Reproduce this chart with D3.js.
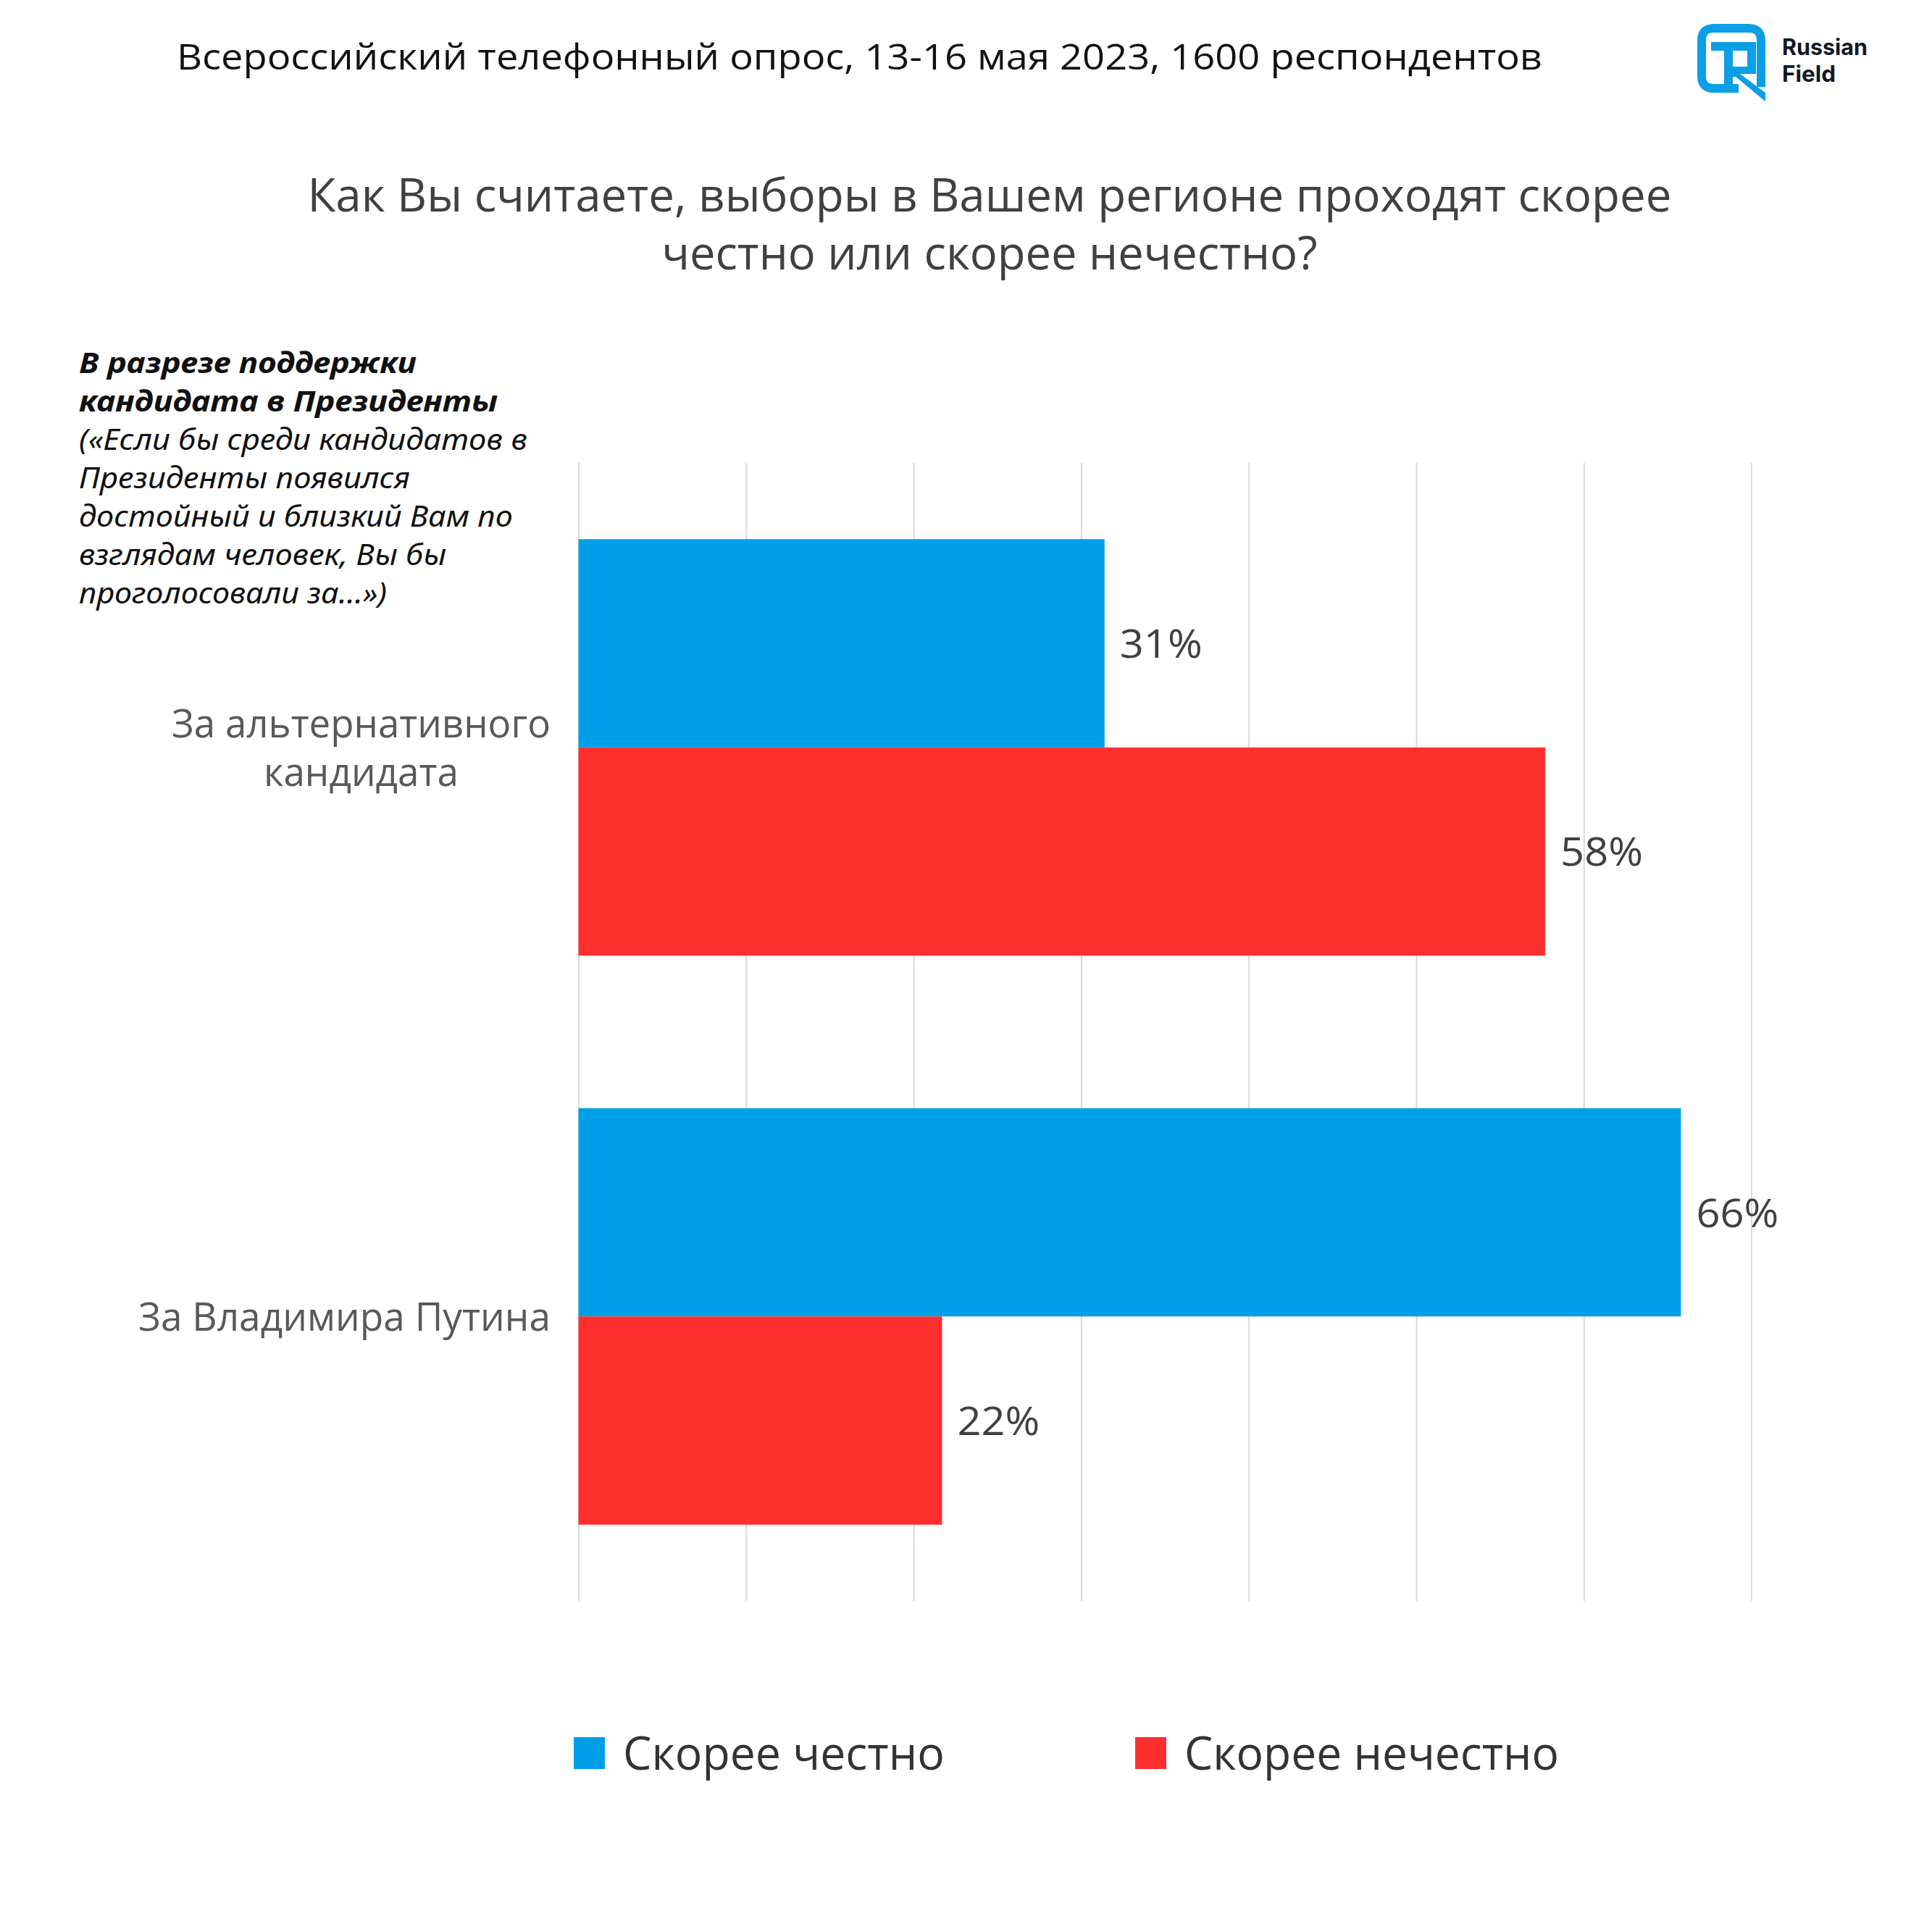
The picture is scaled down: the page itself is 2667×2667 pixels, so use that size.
<!DOCTYPE html>
<html><head><meta charset="utf-8">
<script src="https://cdn.jsdelivr.net/npm/d3@7"></script>
<style>body{margin:0;background:#fff}</style>
</head><body>
<script>
// ---- data ----
const categories = ["За альтернативного кандидата", "За Владимира Путина"];
const categoryLines = [["За альтернативного", "кандидата"], ["За Владимира Путина"]];
const seriesNames = ["Скорее честно", "Скорее нечестно"];
const honestValues = [31.4, 65.8];
const dishonestValues = [57.7, 21.7];
const honestLabels = ["31%", "66%"];
const dishonestLabels = ["58%", "22%"];
const gridTicks = [0, 10, 20, 30, 40, 50, 60, 70];
const seriesColors = ["#009fe8", "#ff2f2f"];
const subtitleText = "Всероссийский телефонный опрос, 13-16 мая 2023, 1600 респондентов";
const questionLines = ["Как Вы считаете, выборы в Вашем регионе проходят скорее", "честно или скорее нечестно?"];
const noteBoldLines = ["В разрезе поддержки", "кандидата в Президенты"];
const noteLines = ["(«Если бы среди кандидатов в", "Президенты появился", "достойный и близкий Вам по", "взглядам человек, Вы бы", "проголосовали за…»)"];

const W = 2667, H = 2667;
const svg = d3.select("body").append("svg").attr("width", W).attr("height", H)
  .style("font-family", "'Open Sans', 'Noto Sans', sans-serif");
svg.append("rect").attr("width", W).attr("height", H).attr("fill", "#fff");

function fit(sel, w) { sel.attr("textLength", w).attr("lengthAdjust", "spacingAndGlyphs"); return sel; }

// ---- header ----
fit(svg.append("text").attr("x", 244).attr("y", 96).attr("font-size", 49).attr("fill", "#111")
  .text(subtitleText), 1885);

const qWidths = [1883, 905];
questionLines.forEach((t, i) => {
  fit(svg.append("text").attr("x", 1366).attr("y", 292 + i * 80).attr("text-anchor", "middle")
    .attr("font-size", 64).attr("fill", "#404040").text(t), qWidths[i]);
});

// ---- note ----
const noteBoldW = [466, 578];
noteBoldLines.forEach((t, i) => {
  fit(svg.append("text").attr("x", 109).attr("y", 515 + i * 53).attr("font-size", 40)
    .attr("font-style", "italic").attr("font-weight", "bold").attr("fill", "#111")
    .attr("font-family", "'Noto Sans', 'Open Sans', sans-serif").text(t), noteBoldW[i]);
});
const noteW = [619, 457, 599, 507, 425];
noteLines.forEach((t, i) => {
  fit(svg.append("text").attr("x", 109).attr("y", 621 + i * 53).attr("font-size", 40)
    .attr("font-style", "italic").attr("fill", "#111")
    .attr("font-family", "'Noto Sans', 'Open Sans', sans-serif").text(t), noteW[i]);
});

// ---- scales ----
const x = d3.scaleLinear().domain([0, 70]).range([798.5, 2417.6]);
const y = d3.scaleBand().domain(categories).range([639, 2210]).paddingInner(0.268).paddingOuter(0.134);
const inner = d3.scaleBand().domain([0, 1]).range([0, y.bandwidth()]);

// gridlines
const grid = svg.append("g").attr("transform", "translate(0,2210)")
  .call(d3.axisTop(x).tickValues(gridTicks).tickSize(2210 - 639).tickFormat(""));
grid.select(".domain").remove();
grid.selectAll(".tick line").attr("stroke", "#d9d9d9").attr("stroke-width", 2);

// bars
const seriesVals = [honestValues, dishonestValues];
const seriesLabs = [honestLabels, dishonestLabels];
const rows = [];
categories.forEach((c, ci) => seriesVals.forEach((vals, si) => rows.push({ c, ci, si, v: vals[ci], lab: seriesLabs[si][ci] })));

svg.append("g").selectAll("rect").data(rows).join("rect")
  .attr("x", x(0))
  .attr("y", d => y(d.c) + inner(d.si))
  .attr("width", d => x(d.v) - x(0))
  .attr("height", inner.bandwidth())
  .attr("fill", d => seriesColors[d.si]);

svg.append("g").selectAll("text").data(rows).join("text")
  .attr("x", d => x(d.v) + 21)
  .attr("y", d => y(d.c) + inner(d.si) + inner.bandwidth() / 2 + 20)
  .attr("font-size", 55).attr("fill", "#404040")
  .attr("textLength", 114).attr("lengthAdjust", "spacingAndGlyphs")
  .text(d => d.lab);

// category labels
const catWidths = [[523, 269], [569]];
categories.forEach((c, ci) => {
  const lines = categoryLines[ci];
  const center = y(c) + y.bandwidth() / 2;
  const maxW = d3.max(catWidths[ci]);
  const cx = 760 - maxW / 2;
  lines.forEach((t, li) => {
    const by = center + 20 + (li - (lines.length - 1) / 2) * 67;
    fit(svg.append("text").attr("x", cx).attr("y", by).attr("text-anchor", "middle")
      .attr("font-size", 54).attr("fill", "#595959").text(t), catWidths[ci][li]);
  });
});

// legend
const legX = [792, 1567];
const legTextW = [444, 517];
seriesNames.forEach((n, i) => {
  svg.append("rect").attr("x", legX[i]).attr("y", 2398).attr("width", 43).attr("height", 44).attr("fill", seriesColors[i]);
  fit(svg.append("text").attr("x", legX[i] + 68).attr("y", 2443).attr("font-size", 64).attr("fill", "#333")
    .text(n), legTextW[i]);
});

// logo
const logo = svg.append("g");
const lb = "#0a9fe6";
logo.append("path")
  .attr("d", "M2400,122 L2366,122 Q2349,122 2349,105 L2349,56 Q2349,39 2366,39 L2414,39 Q2431,39 2431,56 L2431,120")
  .attr("fill", "none").attr("stroke", lb).attr("stroke-width", 12);
logo.append("path")
  .attr("d", "M2380,58 L2424,58 L2424,102 L2402,102 L2437,128 L2437,140 L2396,106 L2392,106 L2392,118 L2380,118 Z M2392,70 L2392,92 L2412,92 L2412,70 Z")
  .attr("fill", lb).attr("fill-rule", "evenodd");
logo.append("rect").attr("x", 2362).attr("y", 58).attr("width", 20).attr("height", 12).attr("fill", lb);
fit(logo.append("text").attr("x", 2460).attr("y", 76).attr("font-size", 31).attr("font-weight", "bold")
  .attr("fill", "#111827").attr("font-family", "Inter, 'Open Sans', sans-serif").text("Russian"), 118);
fit(logo.append("text").attr("x", 2460).attr("y", 113).attr("font-size", 31).attr("font-weight", "bold")
  .attr("fill", "#111827").attr("font-family", "Inter, 'Open Sans', sans-serif").text("Field"), 74);
</script>
</body></html>
